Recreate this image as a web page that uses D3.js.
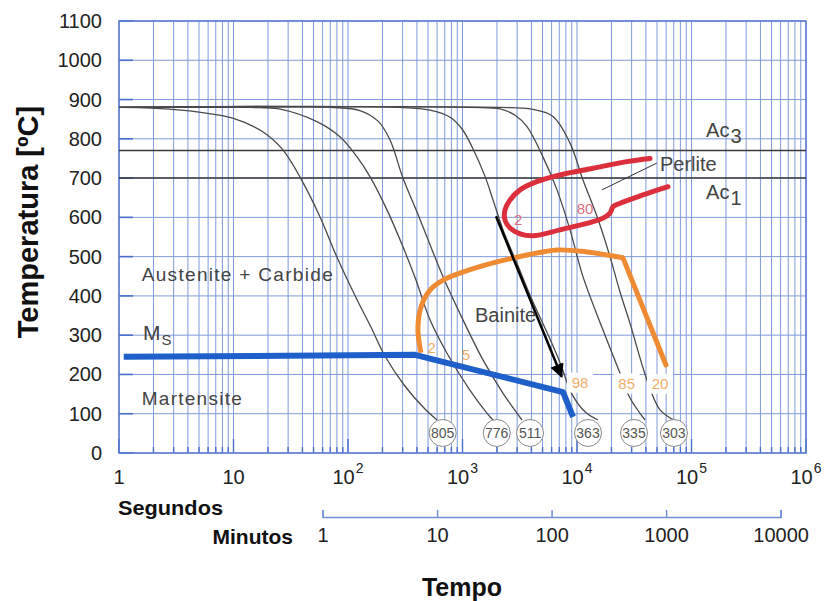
<!DOCTYPE html>
<html><head><meta charset="utf-8">
<script src="https://cdn.jsdelivr.net/npm/d3@7"></script>
<style>
html,body{margin:0;padding:0;background:#fff;}
svg{display:block;font-family:"Liberation Sans",Arial,Helvetica,sans-serif;}
</style></head><body>
<svg id="chart" width="824" height="601"></svg>
<script>
// ---------------- data ----------------
const tempTicks = [0,100,200,300,400,500,600,700,800,900,1000,1100];
const secondTicks = [1,10,100,1000,10000,100000,1000000];
const minuteTicks = [1,10,100,1000,10000];
const hardness = ["805","776","511","363","335","303"];
const hardnessTime = [671,1990,3890,12480,31470,70310];
const hardnessTemp = 51;

const c805Time = [1,1.9,5,10,18,27,38,57,80,120,159,210,315,470,600];
const c805Temp = [880,878,868,852,818,772,703,601,499,390,320,247,170,112,84];
const c776Time = [1,14,25,54,85,120,156,219,302,393,520,732,1160,1640,1850];
const c776Temp = [880,880,876,843,805,754,703,619,525,440,339,254,160,101,84];
const c511Time = [1,70,127,183,233,302,417,676,1010,1510,2260,3310];
const c511Temp = [880,880,872,845,797,700,601,449,339,237,152,84];
const c363Time = [1,285,520,780,990,1210,1570,1850,2260,2990,4050,5810,7110,9040,11740,15240];
const c363Temp = [880,880,873,855,825,780,705,644,568,483,390,290,230,150,105,84];
const c335Time = [1,1160,2130,2880,3660,5040,6690,8690,11280,16870,23760,29040,39260];
const c335Temp = [880,880,876,860,831,754,670,568,449,313,203,140,84];
const c303Time = [1,2130,3890,6170,8690,11280,14960,19410,23760,29040,40840,53090,74690];
const c303Temp = [880,880,876,857,789,695,602,500,410,330,186,110,80];

const ac3Temp = 770;
const ac1Temp = 700;

const msTime = [1.1,385,7550,9230];
const msTemp = [245,250,155,92];

const perliteTime = [43450,27160,13800,7110,4450,3180,2600,2350,2350,2600,3180,4130,7110,13800,16870,19410,20630,23760,37690,62350];
const perliteTemp = [750,742,725,708,691,670,644,619,593,573,558,553,568,589,598,611,627,636,657,678];

const bainiteTime = [434,408,434,520,676,951,1847,3656,6686,12220,25210,59840];
const bainiteTemp = [255,313,372,415,440,458,484,504,517,512,497,224];

const arrowTime = [1963,7350];
const arrowTemp = [603,194];

const perliteLabels = ["2","80"];
const perliteLabelTime = [3070,11750];
const perliteLabelTemp = [593,621];
const bainiteLabels = ["2","5","98","85","20"];
const bainiteLabelTime = [538,1073,10620,27160,53090];
const bainiteLabelTemp = [267,250,179,177,176];

// ---------------- layout ----------------
const svg = d3.select("#chart");
const L = 119, R = 806, T = 21, B = 453;
const x = d3.scaleLog().domain([1,1e6]).range([L,R]);
const y = d3.scaleLinear().domain([0,1100]).range([B,T]);
const gridColor = "#7f9ada";

const g = svg.append("g");

// grid
g.append("g").selectAll("line").data(x.ticks()).join("line")
  .attr("x1",d=>x(d)).attr("x2",d=>x(d)).attr("y1",T).attr("y2",B)
  .attr("stroke",gridColor).attr("stroke-width",1);
g.append("g").selectAll("line").data(tempTicks).join("line")
  .attr("x1",L).attr("x2",R).attr("y1",d=>y(d)).attr("y2",d=>y(d))
  .attr("stroke",gridColor).attr("stroke-width",1);
// inner tick marks
g.append("g").selectAll("line").data(tempTicks).join("line")
  .attr("x1",L).attr("x2",L+14).attr("y1",d=>y(d)).attr("y2",d=>y(d))
  .attr("stroke","#4a6fcc").attr("stroke-width",1.6);
g.append("g").selectAll("line").data(x.ticks()).join("line")
  .attr("x1",d=>x(d)).attr("x2",d=>x(d)).attr("y1",B)
  .attr("y2",d=> (Math.abs(Math.log10(d)-Math.round(Math.log10(d)))<1e-9) ? B-14 : B-6)
  .attr("stroke","#4a6fcc").attr("stroke-width",1.4);
// frame
g.append("rect").attr("x",L).attr("y",T).attr("width",R-L).attr("height",B-T)
  .attr("fill","none").attr("stroke","#5a7bd0").attr("stroke-width",1.5);

// Ac lines
[ac3Temp, ac1Temp].forEach(v=>{
  g.append("line").attr("x1",L).attr("x2",R).attr("y1",y(v)).attr("y2",y(v))
   .attr("stroke","#3a3a3a").attr("stroke-width",1.5);
});

// cooling curves
const smooth = d3.line().x(d=>x(d[0])).y(d=>y(d[1])).curve(d3.curveCatmullRom.alpha(0.5));
const curves = [[c805Time,c805Temp],[c776Time,c776Temp],[c511Time,c511Temp],
                [c363Time,c363Temp],[c335Time,c335Temp],[c303Time,c303Temp]];
curves.forEach(([ts,Ts])=>{
  g.append("path").attr("d",smooth(ts.map((t,i)=>[t,Ts[i]])))
   .attr("fill","none").attr("stroke","#4a4a4a").attr("stroke-width",1.3);
});

// Perlite (red)
g.append("path").attr("d",smooth(perliteTime.map((t,i)=>[t,perliteTemp[i]])))
  .attr("fill","none").attr("stroke","#dc2f3c").attr("stroke-width",5).attr("stroke-linecap","round");

// Bainite (orange)
const bPts = bainiteTime.map((t,i)=>[t,bainiteTemp[i]]);
g.append("path").attr("d",smooth(bPts.slice(0,11)))
  .attr("fill","none").attr("stroke","#ef8c33").attr("stroke-width",5).attr("stroke-linejoin","round");
g.append("path").attr("d",d3.line().x(d=>x(d[0])).y(d=>y(d[1]))(bPts.slice(10)))
  .attr("fill","none").attr("stroke","#ef8c33").attr("stroke-width",5).attr("stroke-linecap","round");

// Ms (blue)
g.append("path").attr("d",d3.line().x(d=>x(d[0])).y(d=>y(d[1]))(msTime.map((t,i)=>[t,msTemp[i]])))
  .attr("fill","none").attr("stroke","#1f5fc9").attr("stroke-width",6).attr("stroke-linejoin","round");

// arrow
svg.append("defs").append("marker").attr("id","arr")
  .attr("viewBox","0 0 10 10").attr("refX",9).attr("refY",5)
  .attr("markerWidth",18).attr("markerHeight",14).attr("markerUnits","userSpaceOnUse")
  .attr("orient","auto")
  .append("path").attr("d","M0,0 L10,5 L0,10 z").attr("fill","#000");
g.append("line").attr("x1",x(arrowTime[0])).attr("y1",y(arrowTemp[0]))
  .attr("x2",x(arrowTime[1])).attr("y2",y(arrowTemp[1]))
  .attr("stroke","#000").attr("stroke-width",2.5).attr("marker-end","url(#arr)");

// percent labels
perliteLabels.forEach((s,i)=>{
  g.append("text").attr("x",x(perliteLabelTime[i])).attr("y",y(perliteLabelTemp[i]))
   .attr("dy","0.35em").attr("text-anchor","middle").attr("font-size",15)
   .attr("fill","#e07080").text(s);
});
bainiteLabels.forEach((s,i)=>{
  const cx = x(bainiteLabelTime[i]), cy = y(bainiteLabelTemp[i]);
  if (i>=2) g.append("rect").attr("x",cx-13).attr("y",cy-10).attr("width",26).attr("height",20).attr("fill","#fff");
  g.append("text").attr("x",cx).attr("y",cy)
   .attr("dy","0.35em").attr("text-anchor","middle").attr("font-size",15)
   .attr("fill","#f0ad6a").text(s);
});

// hardness circles
hardness.forEach((s,i)=>{
  const cx = x(hardnessTime[i]), cy = y(hardnessTemp);
  g.append("circle").attr("cx",cx).attr("cy",cy).attr("r",13.5)
   .attr("fill","#fff").attr("stroke","#8a8a8a").attr("stroke-width",1);
  g.append("text").attr("x",cx).attr("y",cy).attr("dy","0.35em").attr("text-anchor","middle")
   .attr("font-size",14).attr("fill","#555").text(s);
});

// region labels
const lab = (t,v,str,size,len)=> {
  const s = g.append("text").attr("x",x(t)).attr("y",y(v))
   .attr("dy","0.35em").attr("font-size",size).attr("fill","#444").text(str);
  if (len) s.attr("textLength",len).attr("lengthAdjust","spacing");
  return s;
};
lab(1.58,456,"Austenite + Carbide",19,191);
lab(1.58,140,"Martensite",19,100);
lab(1285,351,"Bainite",20);
lab(53090,736,"Perlite",20);
const ms = lab(1.62,306,"M",21);
ms.append("tspan").attr("font-size",15).attr("dy","0.35em").attr("dx",1).text("S");
const ac3 = lab(134000,822,"Ac",20);
ac3.append("tspan").attr("font-size",20).attr("dy","0.3em").attr("dx",1).text("3");
const ac1 = lab(134000,665,"Ac",20);
ac1.append("tspan").attr("font-size",20).attr("dy","0.3em").attr("dx",1).text("1");
g.append("line").attr("x1",x(16520)).attr("y1",y(670)).attr("x2",x(49670)).attr("y2",y(738))
  .attr("stroke","#333").attr("stroke-width",1);

// y axis labels
svg.append("g").selectAll("text").data(tempTicks).join("text")
  .attr("x",102).attr("y",d=>y(d)).attr("dy","0.35em").attr("text-anchor","end")
  .attr("font-size",20).attr("fill","#222").text(d=>d);

// x axis (seconds) labels
const xl = svg.append("g").selectAll("text").data(secondTicks).join("text")
  .attr("x",d=>x(d)).attr("y",484).attr("text-anchor","middle")
  .attr("font-size",20).attr("fill","#222");
xl.each(function(d){
  const e = Math.round(Math.log10(d));
  const s = d3.select(this);
  if (e<2) s.text(String(d));
  else { s.text("10"); s.append("tspan").attr("font-size",14).attr("dy",-11).attr("dx",1).text(e); }
});

// minutes axis
const xm = d3.scaleLog().domain([1,10000]).range([x(60),x(600000)]);
const ma = svg.append("g").attr("transform","translate(0,517)")
  .call(d3.axisBottom(xm).tickValues(minuteTicks).tickFormat(d3.format("d"))
        .tickSizeInner(-7).tickSizeOuter(-7).tickPadding(11));
ma.select(".domain").attr("stroke","#6f8fd6").attr("stroke-width",1.5);
ma.selectAll(".tick line").attr("stroke","#6f8fd6").attr("stroke-width",1.5);
ma.selectAll(".tick text").attr("font-size",20).attr("fill","#222")
  .attr("font-family","'Liberation Sans',Arial,sans-serif");

// titles
svg.append("text").attr("x",118).attr("y",508).attr("dy","0.35em")
  .attr("font-size",21).attr("font-weight","bold").attr("fill","#111")
  .attr("textLength",105).attr("lengthAdjust","spacingAndGlyphs").text("Segundos");
svg.append("text").attr("x",293).attr("y",537).attr("dy","0.35em").attr("text-anchor","end")
  .attr("font-size",21).attr("font-weight","bold").attr("fill","#111").text("Minutos");
svg.append("text").attr("x",462).attr("y",587).attr("dy","0.35em").attr("text-anchor","middle")
  .attr("font-size",25).attr("font-weight","bold").attr("fill","#111").text("Tempo");
svg.append("text").attr("transform","translate(28,222) rotate(-90)").attr("dy","0.35em")
  .attr("text-anchor","middle").attr("font-size",29).attr("font-weight","bold").attr("fill","#111")
  .text("Temperatura [ºC]");
</script>
</body></html>
